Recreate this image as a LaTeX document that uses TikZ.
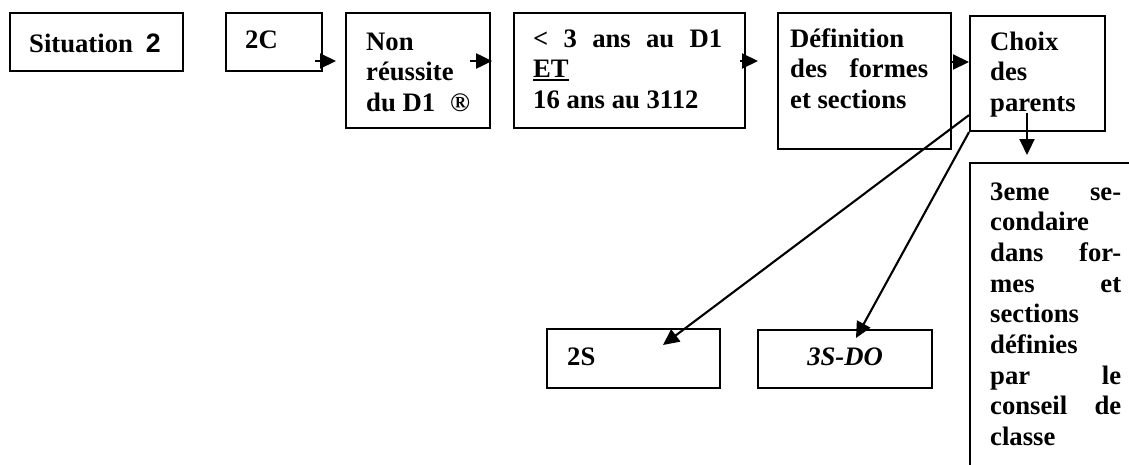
\documentclass[tikz,border=0pt]{standalone}
\usepackage{fontspec}
\setmainfont{Liberation Serif}
\newfontfamily\sansb{Liberation Sans}
\usetikzlibrary{arrows.meta,calc}
\newcommand\thickul[1]{\leavevmode\setbox0\hbox{#1}\rlap{\rule[-3.5pt]{\wd0}{2.2pt}}\box0}
\newcommand\jline[2]{\hbox to #1{\spaceskip=0pt\xspaceskip=0pt #2}}
\begin{document}
\begin{tikzpicture}[x=1pt,y=-1pt,
  box/.style={draw, line width=2.1pt, inner sep=0pt, anchor=north west},
  txt/.style={inner sep=0pt, anchor=base west, align=justify,
    font=\bfseries\fontsize{26.67}{30.67}\selectfont},
  arr/.style={line width=2.1pt, -{Triangle[length=16pt,width=15pt]}}]
\path[use as bounding box] (0,0) rectangle (1129,464);
\clip (0,0) rectangle (1129,464);
% boxes
\node[box, minimum width=173pt, minimum height=58pt] (sit) at (9,12) {};
\node[box, minimum width=96pt, minimum height=58pt] (c2) at (225,12) {};
\node[box, minimum width=144pt, minimum height=115pt] (non) at (345,12) {};
\node[box, minimum width=231pt, minimum height=115pt] (ans) at (513,12) {};
\node[box, minimum width=173pt, minimum height=136pt] (def) at (777,12) {};
\node[box, minimum width=135pt, minimum height=115pt] (choix) at (969,15) {};
\node[box, minimum width=220pt, minimum height=340pt] (sec) at (969,162) {};
\node[box, minimum width=173pt, minimum height=59pt] (s2) at (546,328) {};
\node[box, minimum width=174pt, minimum height=58pt] (s3) at (757,329) {};
% texts
\node[txt, align=left] (sitt) at ($(sit.north west)+(20,40)$) {Situation\hspace{13pt}{\sansb 2}};
\node[txt, align=left] (c2t) at ($(c2.north west)+(20,36)$) {2C};
\node[txt, text width=120pt] (nont) at ($(non.north west)+(21,38)$) {Non\\réussite\\du D1\hspace{15pt}®};
\node[txt, text width=190pt] (anst) at ($(ans.north west)+(20,35)$) {\jline{189pt}{< 3 ans au D1}\\\thickul{ET}\\16 ans au 3112};
\node[txt, text width=139pt] (deft) at ($(def.north west)+(13,35)$) {Définition\\\jline{138pt}{des formes}\\et sections};
\node[txt, text width=110pt] (choixt) at ($(choix.north west)+(21,35)$) {Choix\\des\\parents};
\node[txt, text width=132pt] (sect) at ($(sec.north west)+(21,38)$) {\jline{131pt}{3eme se-}\\condaire\\\jline{131pt}{dans for-}\\\jline{131pt}{mes et}\\sections\\définies\\\jline{131pt}{par le}\\\jline{131pt}{conseil de}\\classe};
\node[txt, align=left] (s2t) at ($(s2.north west)+(21,37)$) {2S};
\node[txt, align=center, anchor=base] (s3t) at ($(s3.north)+(0,36)$) {\textit{3S-DO}};
% connectors
\draw[arr] ($(c2.north east)+(-8,49)$) -- ($(non.north west)+(-9,49)$);
\draw[arr] ($(non.north east)+(-21,49)$) -- ($(non.north east)+(1,49)$);
\draw[arr] ($(ans.north east)+(-6,49)$) -- ($(def.north west)+(-19,49)$);
\draw[arr] ($(def.north east)+(-1,50)$) -- ($(choix.north west)+(0,47)$);
\draw[arr] ($(choix.north west)+(58,98)$) -- ($(sec.north west)+(58,-7)$);
\draw[arr] ($(choix.south west)+(0,-17)$) -- ($(s2.north west)+(117,17)$);
\draw[arr] (choix.south west) -- ($(s3.north west)+(99,9)$);
\end{tikzpicture}
\end{document}
